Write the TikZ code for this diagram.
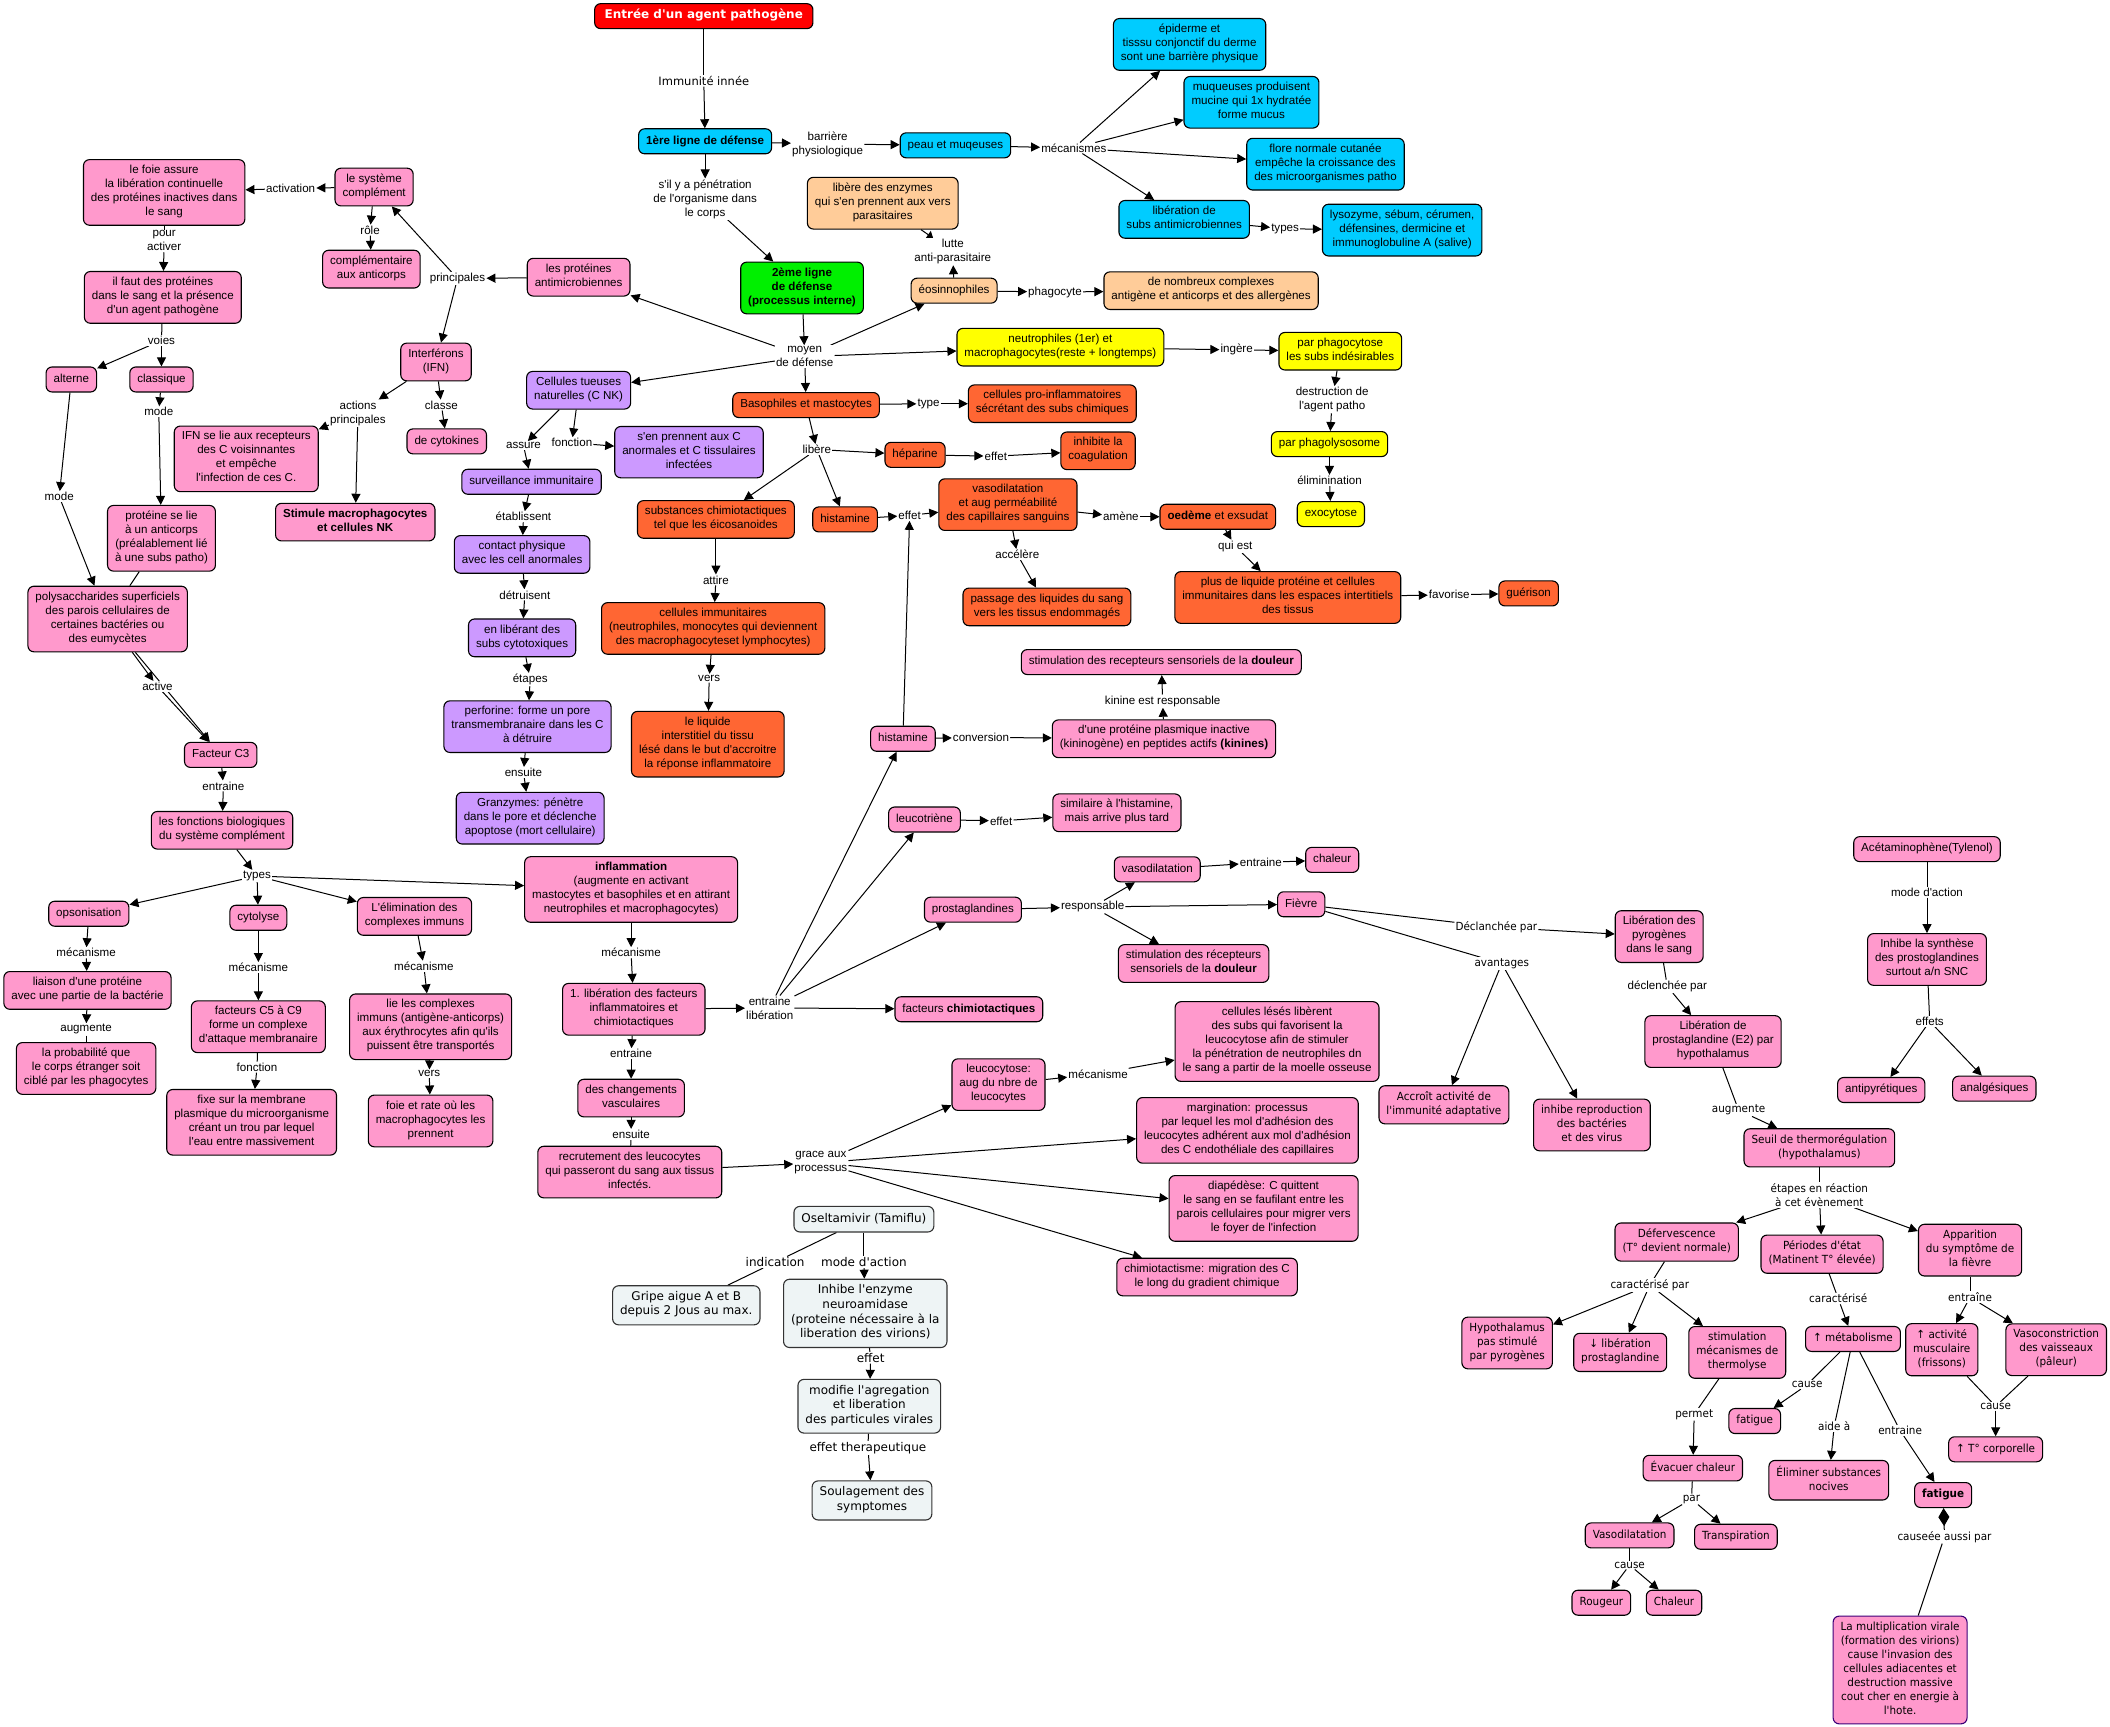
\documentclass[tikz,border=0pt]{standalone}
\usepackage{fontspec}
\setmainfont{Liberation Sans}
\newfontfamily\famA{Liberation Sans}
\newfontfamily\famB[FakeStretch=0.93]{DejaVu Sans}
\newfontfamily\famC{DejaVu Sans}
\usetikzlibrary{arrows.meta,backgrounds}
\definecolor{cRed}{RGB}{255,0,0}
\definecolor{cCyan}{RGB}{0,204,255}
\definecolor{cGreen}{RGB}{0,240,0}
\definecolor{cPeach}{RGB}{255,204,153}
\definecolor{cYellow}{RGB}{255,255,0}
\definecolor{cOrange}{RGB}{255,102,51}
\definecolor{cPink}{RGB}{255,153,204}
\definecolor{cPurple}{RGB}{204,153,255}
\definecolor{cGray}{RGB}{238,244,245}
\definecolor{cViolet}{RGB}{60,0,120}
\newcommand\fA{\famA\fontsize{11.6}{14}\selectfont}
\newcommand\fB{\famB\fontsize{11.2}{14}\selectfont}
\newcommand\fC{\famC\fontsize{12}{14.6}\selectfont}
\newcommand\fT{\famC\bfseries\fontsize{12}{14}\selectfont}
\newcommand\ARW[2]{\draw[ar] (#1) -- (#2);}
\newcommand\LNE[2]{\draw[lnk] (#1) -- (#2);}
\tikzset{
 bx/.style={draw=black, line width=1.1pt, rounded corners=6pt, align=center, inner xsep=7.5pt, inner ysep=5.5pt, execute at begin node=\strut, execute at end node=\strut},
 sPink/.style={bx, fill=cPink, font=\fA},
 sPinkB/.style={bx, fill=cPink, font=\fB},
 sCyan/.style={bx, fill=cCyan, font=\fA},
 sGreen/.style={bx, fill=cGreen, font=\fA\bfseries},
 sPeach/.style={bx, fill=cPeach, font=\fA},
 sYellow/.style={bx, fill=cYellow, font=\fA},
 sOrange/.style={bx, fill=cOrange, font=\fA},
 sPurple/.style={bx, fill=cPurple, font=\fA},
 sGray/.style={bx, fill=cGray, font=\fC, draw=black!80},
 sRed/.style={bx, fill=cRed, text=white, font=\fT, inner xsep=10pt},
 lbl/.style={fill=white, inner sep=1pt, align=center, font=\fA},
 lblB/.style={lbl, font=\fB},
 lblC/.style={lbl, font=\fC},
 ar/.style={line width=1pt, -{Triangle[length=9pt,width=9pt]}},
 arS/.style={line width=1pt, -{Triangle[length=6pt,width=9pt]}},
 lnk/.style={line width=1pt},
 dia/.style={line width=1pt, -{Diamond[length=18pt,width=11pt]}},
}
\begin{document}
\begin{tikzpicture}[x=1.3457pt,y=-1.3457pt]
\useasboundingbox (0,0) rectangle (1568,1283);
% ---------- top ----------
\node[sRed] (entree) at (523,12) {Entrée d'un agent pathogène};
\node[lblC,font=\famC\fontsize{11.5}{14}\selectfont] (Limm) at (523,60) {Immunité innée};
\node[sCyan,font=\fA\bfseries] (l1) at (524,105) {1ère ligne de défense};
\node[lbl] (Lbarr) at (615,107) {barrière\\physiologique};
\node[sCyan] (peau) at (710,108) {peau et muqeuses};
\node[lbl] (Lmeca) at (798,110) {mécanismes};
\node[sCyan] (epid) at (884,33) {épiderme et\\tisssu conjonctif du derme\\sont une barrière physique};
\node[sCyan] (muq) at (930,76) {muqueuses produisent\\mucine qui 1x hydratée\\forme mucus};
\node[sCyan] (flore) at (985,122) {flore normale cutanée\\empêche la croissance des\\des microorganismes patho};
\node[sCyan] (libsubs) at (880,163) {libération de\\subs antimicrobiennes};
\node[lbl] (Ltypes) at (955,170) {types};
\node[sCyan] (lyso) at (1042,171) {lysozyme, sébum, cérumen,\\défensines, dermicine et\\immunoglobuline A (salive)};
\node[lbl] (Lsil) at (524,148) {s'il y a pénétration\\de l'organisme dans\\le corps};
\node[sGreen] (l2) at (596,214) {2ème ligne\\de défense\\(processus interne)};
\node[lbl] (Lmoyen) at (598,265) {moyen\\de défense};
\node[sPeach] (enzymes) at (656,151) {libère des enzymes\\qui s'en prennent aux vers\\parasitaires};
\node[lbl] (Llutte) at (708,187) {lutte\\anti-parasitaire};
\node[sPeach] (eosi) at (709,216) {éosinnophiles};
\node[lbl] (Lphago) at (784,217) {phagocyte};
\node[sPeach] (complexes) at (900,216) {de nombreux complexes\\antigène et anticorps et des allergènes};
\node[sYellow] (neutro) at (788,258) {neutrophiles (1er) et\\macrophagocytes(reste + longtemps)};
\node[lbl] (Lingere) at (919,260) {ingère};
\node[sYellow] (parphago) at (996,261) {par phagocytose\\les subs indésirables};
\node[lbl] (Ldestr) at (990,297) {destruction de\\l'agent patho};
\node[sYellow] (phagolys) at (988,330) {par phagolysosome};
\node[lbl] (Lelim) at (988,357) {éliminination};
\node[sYellow] (exocy) at (989,382) {exocytose};
% ---------- orange ----------
\node[sOrange] (baso) at (599,301) {Basophiles et mastocytes};
\node[lbl] (Ltype) at (690,300) {type};
\node[sOrange] (proinf) at (782,300) {cellules pro-inflammatoires\\sécrétant des subs chimiques};
\node[lbl] (Llibere) at (607,334) {libère};
\node[sOrange] (hepar) at (680,338) {héparine};
\node[lbl] (Leffet1) at (740,339) {effet};
\node[sOrange] (inhib) at (816,335) {inhibite la\\coagulation};
\node[sOrange] (subschim) at (532,386) {substances chimiotactiques\\tel que les éicosanoides};
\node[sOrange] (hista1) at (628,386) {histamine};
\node[lbl] (Leffet2) at (676,383) {effet};
\node[sOrange] (vasod1) at (749,375) {vasodilatation\\et aug perméabilité\\des capillaires sanguins};
\node[lbl] (Lamene) at (833,384) {amène};
\node[sOrange] (oedeme) at (905,384) {\textbf{oedème} et exsudat};
\node[lbl] (Lquiest) at (918,406) {qui est};
\node[lbl] (Laccel) at (756,412) {accélère};
\node[sOrange] (passage) at (778,451) {passage des liquides du sang\\vers les tissus endommagés};
\node[sOrange] (plusliq) at (957,444) {plus de liquide protéine et cellules\\immunitaires dans les espaces intertitiels\\des tissus};
\node[lbl] (Lfavor) at (1077,442) {favorise};
\node[sOrange] (guer) at (1136,441) {guérison};
\node[lbl] (Lattire) at (532,431) {attire};
\node[sOrange] (cellimm) at (530,467) {cellules immunitaires\\(neutrophiles, monocytes qui deviennent\\des macrophagocyteset lymphocytes)};
\node[lbl] (Lvers1) at (527,504) {vers};
\node[sOrange] (liquide) at (526,553) {le liquide\\interstitiel du tissu\\lésé dans le but d'accroitre\\la réponse inflammatoire};
% ---------- left pink ----------
\node[sPink] (compl) at (278,139) {le système\\complément};
\node[lbl] (Lactiv) at (216,140) {activation};
\node[sPink] (foie) at (122,143) {le foie assure\\la libération continuelle\\des protéines inactives dans\\le sang};
\node[lbl] (Lrole) at (275,171) {rôle};
\node[sPink] (complem) at (276,200) {complémentaire\\aux anticorps};
\node[lbl] (Lprinc) at (340,207) {principales};
\node[sPink] (protanti) at (430,206) {les protéines\\antimicrobiennes};
\node[lbl] (Lpour) at (122,179) {pour\\activer};
\node[sPink] (ilfaut) at (121,221) {il faut des protéines\\dans le sang et la présence\\d'un agent pathogène};
\node[lbl] (Lvoies) at (120,253) {voies};
\node[sPink] (altern) at (53,282) {alterne};
\node[sPink] (classiq) at (120,282) {classique};
\node[lbl] (Lmode1) at (118,306) {mode};
\node[lbl] (Lmode2) at (44,369) {mode};
\node[sPink] (ifn) at (324,269) {Interférons\\(IFN)};
\node[lbl] (Lactp) at (266,307) {actions\\principales};
\node[lbl] (Lclasse) at (328,301) {classe};
\node[sPink] (cytok) at (332,328) {de cytokines};
\node[sPink] (ifnlie) at (183,341) {IFN se lie aux recepteurs\\des C voisinnantes\\et empêche\\l'infection de ces C.};
\node[sPink,font=\fA\bfseries] (stimule) at (264,388) {Stimule macrophagocytes\\et cellules NK};
\node[sPink] (protlie) at (120,400) {protéine se lie\\à un anticorps\\(préalablement lié\\à une subs patho)};
\node[sPink] (polysac) at (80,460) {polysaccharides superficiels\\des parois cellulaires de\\certaines bactéries ou\\des eumycètes};
\node[lbl] (Lactive) at (117,510) {active};
\node[sPink] (c3) at (164,561) {Facteur C3};
\node[lbl] (Lentr1) at (166,584) {entraine};
\node[sPink] (fonctbio) at (165,617) {les fonctions biologiques\\du système complément};
\node[lbl] (Ltypes2) at (191,651) {types};
\node[sPink] (opso) at (66,679) {opsonisation};
\node[sPink] (cytol) at (192,682) {cytolyse};
\node[sPink] (elimcx) at (308,681) {L'élimination des\\complexes immuns};
\node[sPink] (inflam) at (469,661) {\textbf{inflammation}\\(augmente en activant\\mastocytes et basophiles et en attirant\\neutrophiles et macrophagocytes)};
\node[lbl] (Lmec1) at (64,708) {mécanisme};
\node[lbl] (Lmec2) at (192,719) {mécanisme};
\node[lbl] (Lmec3) at (315,718) {mécanisme};
\node[lbl] (Lmec4) at (469,708) {mécanisme};
\node[sPink] (liaison) at (65,736) {liaison d'une protéine\\avec une partie de la bactérie};
\node[lbl] (Laugm1) at (64,765) {augmente};
\node[sPink] (proba) at (64,794) {la probabilité que\\le corps étranger soit\\ciblé par les phagocytes};
\node[sPink] (c5c9) at (192,763) {facteurs C5 à C9\\forme un complexe\\d'attaque membranaire};
\node[lbl] (Lfonct1) at (191,793) {fonction};
\node[sPink] (fixe) at (187,834) {fixe sur la membrane\\plasmique du microorganisme\\créant un trou par lequel\\l'eau entre massivement};
\node[sPink] (lielescx) at (320,763) {lie les complexes\\immuns (antigène-anticorps)\\aux érythrocytes afin qu'ils\\puissent être transportés};
\node[lbl] (Lvers2) at (319,798) {vers};
\node[sPink] (foierate) at (320,833) {foie et rate où les\\macrophagocytes les\\prennent};
\node[sPink] (libfact) at (471,750) {1. libération des facteurs\\inflammatoires et\\chimiotactiques};
\node[lbl] (Lentrlib) at (572,749) {entraine\\libération};
\node[sPink] (factchim) at (720,750) {facteurs \textbf{chimiotactiques}};
\node[lbl] (Lentr2) at (469,783) {entraine};
\node[sPink] (changvasc) at (469,816) {des changements\\vasculaires};
\node[lbl] (Lensuite1) at (469,843) {ensuite};
\node[sPink] (recrut) at (468,871) {recrutement des leucocytes\\qui passeront du sang aux tissus\\infectés.};
\node[lbl] (Lgrace) at (610,864) {grace aux\\processus};
\node[sPink] (leucocyt) at (742,806) {leucocytose:\\aug du nbre de\\leucocytes};
\node[lbl] (Lmec5) at (816,798) {mécanisme};
\node[sPink] (celleses) at (949,774) {cellules lésés libèrent\\des subs qui favorisent la\\leucocytose afin de stimuler\\la pénétration de neutrophiles dn\\le sang a partir de la moelle osseuse};
\node[sPink] (margin) at (927,840) {margination: processus\\par lequel les mol d'adhésion des\\leucocytes adhérent aux mol d'adhésion\\des C endothéliale des capillaires};
\node[sPink] (diaped) at (939,898) {diapédèse: C quittent\\le sang en se faufilant entre les\\parois cellulaires pour migrer vers\\le foyer de l'infection};
\node[sPink] (chimiot) at (897,949) {chimiotactisme: migration des C\\le long du gradient chimique};
% ---------- middle pink ----------
\node[sPink] (hista2) at (671,549) {histamine};
\node[lbl] (Lconv) at (729,548) {conversion};
\node[sPink] (protpl) at (865,549) {d'une protéine plasmique inactive\\(kininogène) en peptides actifs \textbf{(kinines)}};
\node[lbl] (Lkinine) at (864,521) {kinine est responsable};
\node[sPink] (douleur1) at (863,492) {stimulation des recepteurs sensoriels de la \textbf{douleur}};
\node[sPink] (leucot) at (687,609) {leucotriène};
\node[lbl] (Leffet3) at (744,610) {effet};
\node[sPink] (simil) at (830,604) {similaire à l'histamine,\\mais arrive plus tard};
\node[sPink] (prosta) at (723,676) {prostaglandines};
\node[lbl] (Lresp) at (812,674) {responsable};
\node[sPink] (vasod2) at (860,646) {vasodilatation};
\node[lbl] (Lentr3) at (937,641) {entraine};
\node[sPink] (chaleur1) at (990,639) {chaleur};
\node[sPink] (fievre) at (967,672) {Fièvre};
\node[sPink] (douleur2) at (887,716) {stimulation des récepteurs\\sensoriels de la \textbf{douleur}};
% ---------- fever ----------
\node[lblB] (Ldecl) at (1112,689) {Déclanchée par};
\node[lblB] (Lavant) at (1116,716) {avantages};
\node[sPink] (pyrog) at (1233,696) {Libération des\\pyrogènes\\dans le sang};
\node[lbl] (Ldecl2) at (1239,733) {déclenchée par};
\node[sPink] (libpg) at (1273,774) {Libération de\\prostaglandine (E2) par\\hypothalamus};
\node[lblB] (Laugm2) at (1292,825) {augmente};
\node[sPinkB] (accroit) at (1073,821) {Accroît activité de\\l'immunité adaptative};
\node[sPinkB] (inhrep) at (1183,836) {inhibe reproduction\\des bactéries\\et des virus};
\node[sPinkB] (seuil) at (1352,853) {Seuil de thermorégulation\\(hypothalamus)};
\node[lblB] (Letapes) at (1352,888) {étapes en réaction\\à cet évènement};
\node[sPinkB] (deferv) at (1246,923) {Défervescence\\(T° devient normale)};
\node[sPinkB] (periodes) at (1354,932) {Périodes d'état\\(Matinent T° élevée)};
\node[sPinkB] (appar) at (1464,929) {Apparition\\du symptôme de\\la fièvre};
\node[lblB] (Lcarpar) at (1226,955) {caractérisé par};
\node[lblB] (Lcar) at (1366,965) {caractérisé};
\node[lblB] (Lentr4) at (1464,964) {entraîne};
\node[sPinkB] (hypoth) at (1120,998) {Hypothalamus\\pas stimulé\\par pyrogènes};
\node[sPinkB] (dimlib) at (1204,1005) {↓ libération\\prostaglandine};
\node[sPinkB] (stimth) at (1291,1005) {stimulation\\mécanismes de\\thermolyse};
\node[sPinkB] (metab) at (1377,995) {↑ métabolisme};
\node[sPinkB] (activm) at (1443,1003) {↑ activité\\musculaire\\(frissons)};
\node[sPinkB] (vasoc) at (1528,1003) {Vasoconstriction\\des vaisseaux\\(pâleur)};
\node[lblB] (Lcause1) at (1343,1029) {cause};
\node[sPinkB] (fatig1) at (1304,1056) {fatigue};
\node[lblB] (Lpermet) at (1259,1051) {permet};
\node[lblB] (Laide) at (1363,1060) {aide à};
\node[lblB] (Lentr5) at (1412,1063) {entraine};
\node[lblB] (Lcause2) at (1483,1045) {cause};
\node[sPinkB] (tcorp) at (1483,1077) {↑ T° corporelle};
\node[sPinkB] (evac) at (1258,1091) {Évacuer chaleur};
\node[sPinkB] (elimsub) at (1359,1100) {Éliminer substances\\nocives};
\node[sPinkB,font=\fB\bfseries] (fatig2) at (1444,1111) {fatigue};
\node[lblB] (Lpar) at (1257,1114) {par};
\node[sPinkB] (vasod3) at (1211,1141) {Vasodilatation};
\node[sPinkB] (transp) at (1290,1142) {Transpiration};
\node[lblB] (Lcause3) at (1211,1163) {cause};
\node[lblB] (Lcausee) at (1445,1142) {causeée aussi par};
\node[sPinkB] (rougeur) at (1190,1191) {Rougeur};
\node[sPinkB] (chaleur2) at (1244,1191) {Chaleur};
\node[sPinkB,draw=cViolet] (multvir) at (1412,1241) {La multiplication virale\\(formation des virions)\\cause l'invasion des\\cellules adiacentes et\\destruction massive\\cout cher en energie à\\l'hote.};
% ---------- acetaminophene ----------
\node[sPink] (aceta) at (1432,631) {Acétaminophène(Tylenol)};
\node[lbl] (Lmodeact) at (1432,663) {mode d'action};
\node[sPink] (inhsynth) at (1432,713) {Inhibe la synthèse\\des prostoglandines\\surtout a/n SNC};
\node[lbl] (Leffets) at (1434,759) {effets};
\node[sPink] (antipyr) at (1398,810) {antipyrétiques};
\node[sPink] (analg) at (1482,809) {analgésiques};
% ---------- purple ----------
\node[sPurple] (nk) at (430,290) {Cellules tueuses\\naturelles (C NK)};
\node[lbl] (Lassure) at (389,331) {assure};
\node[lbl] (Lfonct2) at (425,329) {fonction};
\node[sPurple] (senpren) at (512,336) {s'en prennent aux C\\anormales et C tissulaires\\infectées};
\node[sPurple] (surv) at (395,358) {surveillance immunitaire};
\node[lbl] (Letabl) at (389,384) {établissent};
\node[sPurple] (contact) at (388,412) {contact physique\\avec les cell anormales};
\node[lbl] (Ldetr) at (390,442) {détruisent};
\node[sPurple] (enlib) at (388,474) {en libérant des\\subs cytotoxiques};
\node[lbl] (Letapes2) at (394,505) {étapes};
\node[sPurple] (perfor) at (392,540) {perforine: forme un pore\\transmembranaire dans les C\\à détruire};
\node[lbl] (Lensuite2) at (389,574) {ensuite};
\node[sPurple] (granz) at (394,608) {Granzymes: pénètre\\dans le pore et déclenche\\apoptose (mort cellulaire)};
% ---------- tamiflu ----------
\node[sGray] (osel) at (642,906) {Oseltamivir (Tamiflu)};
\node[lblC] (Lindic) at (576,938) {indication};
\node[lblC] (Lmodeact2) at (642,938) {mode d'action};
\node[sGray] (gripe) at (510,970) {Gripe aigue A et B\\depuis 2 Jous au max.};
\node[sGray] (inhenz) at (643,976) {Inhibe l'enzyme\\neuroamidase\\(proteine nécessaire à la\\liberation des virions)};
\node[lblC] (Leffet4) at (647,1009) {effet};
\node[sGray] (modif) at (646,1045) {modifie l'agregation\\et liberation\\des particules virales};
\node[lblC] (Leffther) at (645,1076) {effet therapeutique};
\node[sGray] (soulag) at (648,1115) {Soulagement des\\symptomes};
% ---------- connectors ----------
\begin{scope}[on background layer]
\fill[white] (0,0) rectangle (1568,1283);
\LNE{entree}{Limm} \ARW{Limm}{l1}
\ARW{l1}{Lbarr} \ARW{Lbarr}{peau}
\ARW{peau}{Lmeca} \ARW{Lmeca}{epid} \ARW{Lmeca}{muq} \ARW{Lmeca}{flore} \ARW{Lmeca}{libsubs}
\ARW{libsubs}{Ltypes} \ARW{Ltypes}{lyso}
\ARW{l1}{Lsil} \ARW{Lsil}{l2}
\ARW{l2}{Lmoyen}
\ARW{Lmoyen}{protanti} \ARW{Lmoyen}{eosi} \ARW{Lmoyen}{neutro} \ARW{Lmoyen}{nk} \ARW{Lmoyen}{baso}
\ARW{eosi}{Llutte} \draw[arS] (enzymes) -- (Llutte);
\ARW{eosi}{Lphago} \ARW{Lphago}{complexes}
\ARW{neutro}{Lingere} \ARW{Lingere}{parphago}
\ARW{parphago}{Ldestr} \ARW{Ldestr}{phagolys} \ARW{phagolys}{Lelim} \ARW{Lelim}{exocy}
\ARW{baso}{Ltype} \ARW{Ltype}{proinf}
\ARW{baso}{Llibere} \ARW{Llibere}{hepar} \ARW{Llibere}{subschim} \ARW{Llibere}{hista1}
\ARW{hepar}{Leffet1} \ARW{Leffet1}{inhib}
\ARW{hista1}{Leffet2} \ARW{Leffet2}{vasod1}
\ARW{vasod1}{Lamene} \ARW{Lamene}{oedeme}
\ARW{vasod1}{Laccel} \ARW{Laccel}{passage}
\ARW{oedeme}{Lquiest} \ARW{Lquiest}{plusliq}
\ARW{plusliq}{Lfavor} \ARW{Lfavor}{guer}
\ARW{subschim}{Lattire} \ARW{Lattire}{cellimm}
\ARW{cellimm}{Lvers1} \ARW{Lvers1}{liquide}
\ARW{hista2}{Leffet2}
\ARW{hista2}{Lconv} \ARW{Lconv}{protpl}
\ARW{protpl}{Lkinine} \ARW{Lkinine}{douleur1}
\ARW{leucot}{Leffet3} \ARW{Leffet3}{simil}
\ARW{prosta}{Lresp} \ARW{Lresp}{vasod2} \ARW{Lresp}{fievre} \ARW{Lresp}{douleur2}
\ARW{vasod2}{Lentr3} \ARW{Lentr3}{chaleur1}
\LNE{fievre}{Ldecl} \ARW{Ldecl}{pyrog}
\LNE{fievre}{Lavant} \ARW{Lavant}{accroit} \ARW{Lavant}{inhrep}
\LNE{pyrog}{Ldecl2} \ARW{Ldecl2}{libpg}
\LNE{libpg}{Laugm2} \ARW{Laugm2}{seuil}
\LNE{seuil}{Letapes} \ARW{Letapes}{deferv} \ARW{Letapes}{periodes} \ARW{Letapes}{appar}
\LNE{deferv}{Lcarpar} \ARW{Lcarpar}{hypoth} \ARW{Lcarpar}{dimlib} \ARW{Lcarpar}{stimth}
\LNE{periodes}{Lcar} \ARW{Lcar}{metab}
\LNE{appar}{Lentr4} \ARW{Lentr4}{activm} \ARW{Lentr4}{vasoc}
\LNE{activm}{Lcause2} \LNE{vasoc}{Lcause2} \ARW{Lcause2}{tcorp}
\LNE{metab}{Lcause1} \ARW{Lcause1}{fatig1}
\LNE{metab}{Laide} \ARW{Laide}{elimsub}
\LNE{metab}{Lentr5} \ARW{Lentr5}{fatig2}
\LNE{stimth}{Lpermet} \ARW{Lpermet}{evac}
\LNE{evac}{Lpar} \ARW{Lpar}{vasod3} \ARW{Lpar}{transp}
\LNE{vasod3}{Lcause3} \ARW{Lcause3}{rougeur} \ARW{Lcause3}{chaleur2}
\LNE{multvir}{Lcausee} \draw[dia] (Lcausee) -- (fatig2);
\LNE{aceta}{Lmodeact} \ARW{Lmodeact}{inhsynth}
\LNE{inhsynth}{Leffets} \ARW{Leffets}{antipyr} \ARW{Leffets}{analg}
\LNE{osel}{Lindic} \LNE{Lindic}{gripe}
\LNE{osel}{Lmodeact2} \ARW{Lmodeact2}{inhenz}
\LNE{inhenz}{Leffet4} \ARW{Leffet4}{modif}
\LNE{modif}{Leffther} \ARW{Leffther}{soulag}
\ARW{protanti}{Lprinc} \ARW{Lprinc}{compl} \ARW{Lprinc}{ifn}
\ARW{compl}{Lactiv} \ARW{Lactiv}{foie}
\ARW{compl}{Lrole} \ARW{Lrole}{complem}
\LNE{foie}{Lpour} \ARW{Lpour}{ilfaut}
\LNE{ilfaut}{Lvoies} \ARW{Lvoies}{altern} \ARW{Lvoies}{classiq}
\ARW{classiq}{Lmode1} \ARW{Lmode1}{protlie}
\ARW{altern}{Lmode2} \ARW{Lmode2}{polysac}
\LNE{protlie}{polysac}
\ARW{polysac}{Lactive} \ARW{Lactive}{c3} \ARW{polysac}{c3}
\ARW{c3}{Lentr1} \ARW{Lentr1}{fonctbio}
\ARW{fonctbio}{Ltypes2} \ARW{Ltypes2}{opso} \ARW{Ltypes2}{cytol} \ARW{Ltypes2}{elimcx} \ARW{Ltypes2}{inflam}
\ARW{opso}{Lmec1} \ARW{Lmec1}{liaison} \ARW{liaison}{Laugm1} \LNE{Laugm1}{proba}
\ARW{cytol}{Lmec2} \ARW{Lmec2}{c5c9}
\LNE{c5c9}{Lfonct1} \ARW{Lfonct1}{fixe}
\ARW{elimcx}{Lmec3} \ARW{Lmec3}{lielescx} \ARW{lielescx}{Lvers2} \ARW{Lvers2}{foierate}
\ARW{inflam}{Lmec4} \ARW{Lmec4}{libfact}
\ARW{libfact}{Lentrlib} \ARW{Lentrlib}{hista2} \ARW{Lentrlib}{leucot} \ARW{Lentrlib}{prosta} \ARW{Lentrlib}{factchim}
\ARW{libfact}{Lentr2} \ARW{Lentr2}{changvasc}
\ARW{changvasc}{Lensuite1} \LNE{Lensuite1}{recrut}
\ARW{recrut}{Lgrace} \ARW{Lgrace}{leucocyt} \ARW{Lgrace}{margin} \ARW{Lgrace}{diaped} \ARW{Lgrace}{chimiot}
\ARW{leucocyt}{Lmec5} \ARW{Lmec5}{celleses}
\ARW{ifn}{Lactp} \ARW{Lactp}{ifnlie} \ARW{Lactp}{stimule}
\ARW{ifn}{Lclasse} \ARW{Lclasse}{cytok}
\ARW{nk}{Lassure} \ARW{Lassure}{surv}
\ARW{nk}{Lfonct2} \ARW{Lfonct2}{senpren}
\ARW{surv}{Letabl} \ARW{Letabl}{contact}
\ARW{contact}{Ldetr} \ARW{Ldetr}{enlib}
\ARW{enlib}{Letapes2} \ARW{Letapes2}{perfor}
\ARW{perfor}{Lensuite2} \ARW{Lensuite2}{granz}
\end{scope}
\end{tikzpicture}
\end{document}
